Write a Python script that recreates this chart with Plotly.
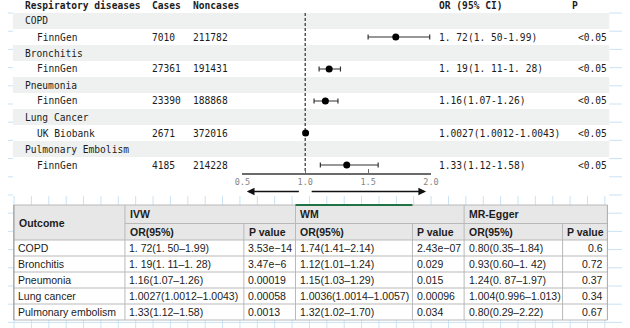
import plotly.graph_objects as go

# ---------------- data ----------------
outcomes = ["COPD", "Bronchitis", "Pneumonia", "Lung Cancer", "Pulmonary Embolism"]
sources = ["FinnGen", "FinnGen", "FinnGen", "UK Biobank", "FinnGen"]
cases = [7010, 27361, 23390, 2671, 4185]
noncases = [211782, 191431, 188868, 372016, 214228]
or_val = [1.72, 1.19, 1.16, 1.0027, 1.33]
ci_low = [1.50, 1.11, 1.07, 1.0012, 1.12]
ci_high = [1.99, 1.28, 1.26, 1.0043, 1.58]
or_text = ["1. 72(1. 50-1.99)", "1. 19(1. 11-1. 28)", "1.16(1.07-1.26)",
           "1.0027(1.0012-1.0043)", "1.33(1.12-1.58)"]
p_text = ["<0.05", "<0.05", "<0.05", "<0.05", "<0.05"]
x_ticks = [0.5, 1.0, 1.5, 2.0]
x_ticklabels = ["0.5", "1.0", "1.5", "2.0"]
forest_headers = ["Respiratory diseases", "Cases", "Noncases", "OR (95% CI)", "P"]

table_outcomes = ["COPD", "Bronchitis", "Pneumonia", "Lung cancer", "Pulmonary embolism"]
ivw_or = ["1. 72(1. 50\u20131.99)", "1. 19(1. 11\u20131. 28)", "1.16(1.07\u20131.26)",
          "1.0027(1.0012\u20131.0043)", "1.33(1.12\u20131.58)"]
ivw_p = ["3.53e\u221214", "3.47e\u22126", "0.00019", "0.00058", "0.0013"]
wm_or = ["1.74(1.41\u20132.14)", "1.12(1.01\u20131.24)", "1.15(1.03\u20131.29)",
         "1.0036(1.0014\u20131.0057)", "1.32(1.02\u20131.70)"]
wm_p = ["2.43e\u221207", "0.029", "0.015", "0.00096", "0.034"]
egger_or = ["0.80(0.35\u20131.84)", "0.93(0.60\u20131. 42)", "1.24(0. 87\u20131.97)",
            "1.004(0.996\u20131.013)", "0.80(0.29\u20132.22)"]
egger_p = ["0.6", "0.72", "0.37", "0.34", "0.67"]
method_names = ["IVW", "WM", "MR-Egger"]
sub_headers = ["OR(95%)", "P value"]

# ---------------- geometry helpers ----------------
W, H = 630, 328
def px(x):
    return x / W
def py(y):
    return 1 - y / H

MONO = "DejaVu Sans Mono"
SANS = "Liberation Sans"
TXT = "#1c1c1c"
MONO_SIZE = 9.6

ROW_TOP, ROW_H = 13, 16   # forest rows (pixel layout)
def row_py(r):
    return ROW_TOP + (r + 0.5) * ROW_H

fig = go.Figure()

sub_rows = [2 * i + 1 for i in range(len(outcomes))]
grp_rows = [2 * i for i in range(len(outcomes))]

fig.add_trace(go.Scatter(
    x=or_val, y=sub_rows, mode="markers",
    marker=dict(color="black", size=7),
    error_x=dict(type="data", symmetric=False,
                 array=[h - o for h, o in zip(ci_high, or_val)],
                 arrayminus=[o - l for o, l in zip(or_val, ci_low)],
                 color="#333333", thickness=1.2, width=2.5),
    cliponaxis=False, hoverinfo="skip", showlegend=False))

shapes = []
annotations = []

# Excel-like background grid
grid_col = "#c9e3f5"
k = 0
while 6.2 + k * 17.83 < W:
    xv = 6.2 + k * 17.83
    shapes.append(dict(type="line", xref="paper", yref="paper", x0=px(xv), x1=px(xv),
                       y0=0, y1=1, line=dict(color=grid_col, width=1), layer="below"))
    k += 1
k = -1
while 13 + k * 18.2 < H:
    yv = 13 + k * 18.2
    shapes.append(dict(type="line", xref="paper", yref="paper", x0=0, x1=1,
                       y0=py(yv), y1=py(yv), line=dict(color=grid_col, width=1), layer="below"))
    k += 1

# forest image white backdrop
shapes.append(dict(type="rect", xref="paper", yref="paper", x0=px(5), x1=px(617),
                   y0=py(196), y1=py(0), fillcolor="white", line=dict(width=0), layer="below"))

# stripes on group rows
for r in grp_rows:
    shapes.append(dict(type="rect", xref="paper", yref="y", x0=px(5), x1=px(617),
                       y0=r - 0.5, y1=r + 0.5, fillcolor="#eef1f0", line=dict(width=0),
                       layer="below"))

# null line
shapes.append(dict(type="line", xref="x", yref="y", x0=1.0, x1=1.0, y0=-0.5, y1=9.5,
                   line=dict(color="#555555", width=1.5, dash="3px,2px"), layer="below"))

def mono(text, x, ypix, bold=False, anchor="left"):
    annotations.append(dict(text=f"<b>{text}</b>" if bold else text, xref="paper", yref="paper",
                            x=px(x), y=py(ypix), xanchor=anchor, yanchor="middle", showarrow=False,
                            font=dict(family=MONO, size=MONO_SIZE, color=TXT)))

# forest header
hx = [15, 146, 188, 440, 577]
for t, x in zip(forest_headers, hx):
    mono(t, x, row_py(-1), bold=True)

for i in range(len(outcomes)):
    mono(outcomes[i], 15, row_py(grp_rows[i]))
    mono(sources[i], 28, row_py(sub_rows[i]))
    mono(str(cases[i]), 146, row_py(sub_rows[i]))
    mono(str(noncases[i]), 188, row_py(sub_rows[i]))
    mono(or_text[i], 440, row_py(sub_rows[i]))
    mono(p_text[i], 583, row_py(sub_rows[i]))

# direction arrows under the axis
arrow_y = py(191.5)
for head, tail in [(0.535, 0.961), (1.961, 1.039)]:
    annotations.append(dict(text="", xref="x", yref="paper", x=head, y=arrow_y,
                            axref="x", ax=tail, ay=0, showarrow=True,
                            arrowhead=2, arrowsize=1.1, arrowwidth=1.4, arrowcolor="#111111"))

# ---------------- table ----------------
col_edges = [6, 120, 242, 295, 415, 468, 569, 615]
row_edges = [205, 223.5, 240, 256, 272, 288, 304, 320]
border = "#b9b9b9"

shapes.append(dict(type="rect", xref="paper", yref="paper", x0=px(col_edges[0]), x1=px(col_edges[-1]),
                   y0=py(row_edges[2]), y1=py(row_edges[0]), fillcolor="#e7e7e7",
                   line=dict(width=0), layer="below"))
shapes.append(dict(type="rect", xref="paper", yref="paper", x0=px(col_edges[0]), x1=px(col_edges[-1]),
                   y0=py(row_edges[-1]), y1=py(row_edges[2]), fillcolor="white",
                   line=dict(width=0), layer="below"))

def hline(y, x0, x1, color=border, width=1):
    shapes.append(dict(type="line", xref="paper", yref="paper", x0=px(x0), x1=px(x1),
                       y0=py(y), y1=py(y), line=dict(color=color, width=width), layer="below"))
def vline(x, y0, y1, color=border, width=1):
    shapes.append(dict(type="line", xref="paper", yref="paper", x0=px(x), x1=px(x),
                       y0=py(y0), y1=py(y1), line=dict(color=color, width=width), layer="below"))

for j, y in enumerate(row_edges):
    if j == 1:
        hline(y, col_edges[1], col_edges[-1])
    else:
        hline(y, col_edges[0], col_edges[-1])
for j, x in enumerate(col_edges):
    if j in (2, 4, 6):
        vline(x, row_edges[1], row_edges[-1])
    else:
        vline(x, row_edges[0], row_edges[-1], color="#a8a8a8" if j in (0, 7) else border,
              width=1.5 if j == 0 else 1)
# green selection mark on WM header
hline(row_edges[0], col_edges[3], col_edges[4], color="#217346", width=2)

def cell(text, x, y, bold=False, anchor="left"):
    annotations.append(dict(text=f"<b>{text}</b>" if bold else text, xref="paper", yref="paper",
                            x=px(x), y=py(y), xanchor=anchor, yanchor="middle", showarrow=False,
                            font=dict(family=SANS, size=10.5, color=TXT)))

cell("Outcome", col_edges[0] + 3, (row_edges[0] + row_edges[2]) / 2, bold=True)
for m, name in enumerate(method_names):
    c0 = col_edges[1 + 2 * m]
    cell(name, c0 + 3, (row_edges[0] + row_edges[1]) / 2, bold=True)
    for s, sh in enumerate(sub_headers):
        cell(sh, col_edges[1 + 2 * m + s] + 3, (row_edges[1] + row_edges[2]) / 2, bold=True)

columns = [table_outcomes, ivw_or, ivw_p, wm_or, wm_p, egger_or]
for i in range(len(table_outcomes)):
    yc = (row_edges[2 + i] + row_edges[3 + i]) / 2
    for c, col in enumerate(columns):
        cell(col[i], col_edges[c] + 2.5, yc)
    cell(egger_p[i], col_edges[-1] - 2.5, yc, anchor="right")

fig.update_layout(
    width=W, height=H, autosize=False,
    margin=dict(l=0, r=0, t=0, b=0, pad=0),
    paper_bgcolor="white", plot_bgcolor="rgba(0,0,0,0)",
    xaxis=dict(domain=[px(240.5), px(434)], range=[0.5, 2.0], showline=True,
               linecolor="#6b6b6b", linewidth=1.5, ticks="inside", ticklen=4,
               tickwidth=1.3, tickcolor="#6b6b6b", tickvals=x_ticks, ticktext=x_ticklabels,
               tickfont=dict(family=MONO, size=8.5, color="#858585"),
               showgrid=False, zeroline=False, fixedrange=True),
    yaxis=dict(domain=[py(173), py(13)], range=[9.5, -0.5], visible=False,
               showgrid=False, zeroline=False, fixedrange=True),
    shapes=shapes, annotations=annotations, showlegend=False,
)

fig.write_html("out.html")
